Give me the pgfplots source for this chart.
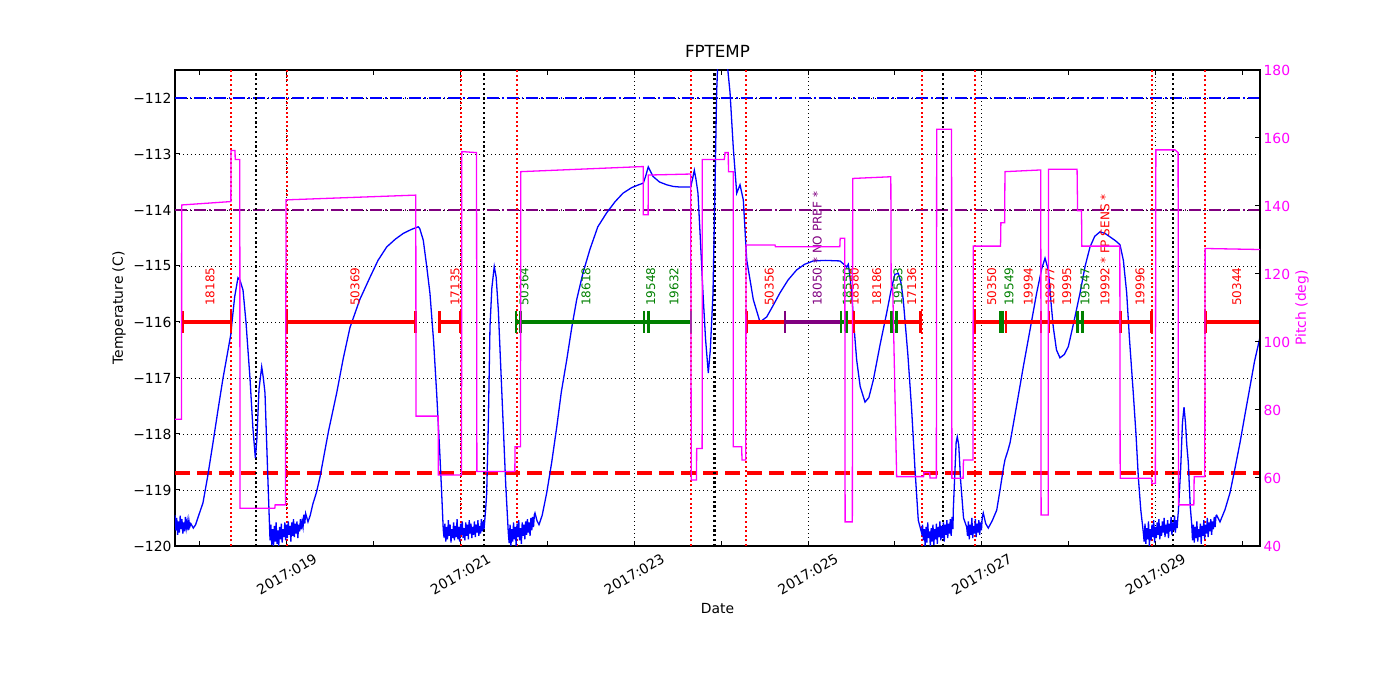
\documentclass[border=0pt]{standalone}
\usepackage{pgfplots}
\pgfplotsset{compat=1.18}
\usepackage{fontspec}
\setmainfont{DejaVu Sans}
\definecolor{mgreen}{RGB}{0,128,0}
\definecolor{mpurple}{RGB}{128,0,128}
\definecolor{mmag}{RGB}{255,0,255}
\definecolor{mred}{RGB}{255,0,0}
\definecolor{mblue}{RGB}{0,0,255}
\newcommand{\tickfont}{\fontsize{13.9}{16}\selectfont}
\begin{document}
\begin{tikzpicture}[
  lab/.style={rotate=90, anchor=west, inner sep=0pt, font=\fontsize{12}{14}\selectfont},
  seg/.style={line width=3.3pt, mark=|, mark size=11pt, mark options={solid, line width=2.8pt}},
  evr/.style={mred, line width=1.8pt, dash pattern=on 2pt off 2.6pt},
  evk/.style={black, line width=2.2pt, dash pattern=on 2.2pt off 2.6pt},
]
\path[use as bounding box] (-175pt,-154pt) rectangle (1225pt,546pt);
\begin{axis}[
  at={(0pt,0pt)}, anchor=south west,
  scale only axis, width=1085pt, height=476pt,
  xmin=17.713, xmax=30.203, ymin=-120, ymax=-111.5,
  xtick={19,21,23,25,27,29},
  xticklabels={2017:019,2017:021,2017:023,2017:025,2017:027,2017:029},
  minor xtick={18,20,22,24,26,28,30},
  ytick={-120,-119,-118,-117,-116,-115,-114,-113,-112},
  yticklabels={−120,−119,−118,−117,−116,−115,−114,−113,−112},
  xtick pos=both, ytick pos=left,
  tick align=inside,
  major tick length=5pt, minor tick length=5pt,
  tick style={black, line width=1pt},
  axis line style={line width=1.5pt},
  grid=major,
  major grid style={black, line width=0.7pt, dash pattern=on 1pt off 3pt},
  tick label style={font=\tickfont},
  xticklabel style={yshift=-28pt, rotate=30, anchor=center},
  title={FPTEMP},
  title style={at={(axis description cs:0.5,1.0273)}, anchor=center, font=\fontsize{16.7}{19}\selectfont},
  xlabel={Date},
  xlabel style={at={(axis description cs:0.5,-0.1324)}, anchor=center, font=\tickfont},
  ylabel={Temperature (C)},
  ylabel style={at={(axis description cs:-0.0516,0.5)}, anchor=center, font=\tickfont},
]
% reference horizontal lines
\addplot[mblue, line width=1.4pt, dash pattern=on 12pt off 3pt on 1.5pt off 3pt] coordinates {(17.713,-112) (30.203,-112)};
\addplot[mpurple, line width=1.4pt, dash pattern=on 12pt off 3pt on 1.5pt off 3pt] coordinates {(17.713,-114) (30.203,-114)};
\addplot[mred, line width=3.5pt, dash pattern=on 15pt off 7pt] coordinates {(17.713,-118.7) (30.203,-118.7)};
% event lines
\addplot[evr] coordinates {(18.358,-120) (18.358,-111.5)};
\addplot[evr] coordinates {(18.999,-120) (18.999,-111.5)};
\addplot[evr] coordinates {(21.009,-120) (21.009,-111.5)};
\addplot[evr] coordinates {(21.646,-120) (21.646,-111.5)};
\addplot[evr] coordinates {(23.656,-120) (23.656,-111.5)};
\addplot[evr] coordinates {(24.286,-120) (24.286,-111.5)};
\addplot[evr] coordinates {(26.309,-120) (26.309,-111.5)};
\addplot[evr] coordinates {(26.922,-120) (26.922,-111.5)};
\addplot[evr] coordinates {(28.956,-120) (28.956,-111.5)};
\addplot[evr] coordinates {(29.570,-120) (29.570,-111.5)};
\addplot[evk] coordinates {(18.642,-120) (18.642,-111.5)};
\addplot[evk] coordinates {(21.273,-120) (21.273,-111.5)};
\addplot[evk] coordinates {(23.924,-120) (23.924,-111.5)};
\addplot[evk] coordinates {(26.557,-120) (26.557,-111.5)};
\addplot[evk] coordinates {(29.205,-120) (29.205,-111.5)};
% temperature
\addplot[mblue, line width=1.3pt] coordinates {
(17.713,-119.45) (17.723,-119.72) (17.733,-119.50) (17.743,-119.80) (17.753,-119.56) (17.763,-119.76) (17.773,-119.46) (17.783,-119.70) (17.793,-119.52) (17.803,-119.78) (17.813,-119.58) (17.823,-119.74) (17.833,-119.48) (17.843,-119.68) (17.853,-119.56) (17.863,-119.72) (17.873,-119.54) (17.883,-119.66) (17.895,-119.60) (17.924,-119.68) (17.95,-119.62) (17.98,-119.48) (18.035,-119.23) (18.09,-118.75) (18.15,-118.16) (18.21,-117.55) (18.266,-117.0) (18.31,-116.62) (18.358,-116.2) (18.366,-116.05) (18.40,-115.55) (18.438,-115.21) (18.46,-115.25) (18.496,-115.43) (18.53,-116.0) (18.576,-117.0) (18.61,-117.9) (18.638,-118.43) (18.655,-118.1) (18.68,-117.2) (18.711,-116.8) (18.73,-117.0) (18.749,-117.27) (18.78,-118.7) (18.807,-119.9)
(18.817,-119.62) (18.827,-119.98) (18.837,-119.70) (18.847,-120.0) (18.857,-119.64) (18.867,-119.92) (18.877,-119.58) (18.887,-119.96) (18.897,-119.72) (18.907,-120.0) (18.917,-119.66) (18.927,-119.88) (18.937,-119.60) (18.947,-119.94) (18.957,-119.70) (18.967,-119.84) (18.977,-119.58) (18.987,-119.90) (18.997,-119.62) (19.007,-119.86) (19.017,-119.56) (19.027,-119.80) (19.037,-119.64) (19.047,-119.92) (19.057,-119.58) (19.067,-119.82) (19.077,-119.52) (19.087,-119.84) (19.097,-119.60) (19.107,-119.78) (19.117,-119.56) (19.127,-119.86) (19.137,-119.62) (19.147,-119.74) (19.157,-119.52) (19.167,-119.70) (19.177,-119.56) (19.187,-119.66) (19.197,-119.44) (19.207,-119.60) (19.217,-119.42)
(19.244,-119.57) (19.27,-119.45) (19.30,-119.25) (19.34,-119.05) (19.382,-118.77) (19.48,-117.95) (19.574,-117.27) (19.65,-116.65) (19.727,-116.1) (19.84,-115.6) (19.958,-115.2) (20.05,-114.9) (20.15,-114.66) (20.25,-114.52) (20.339,-114.42) (20.43,-114.35) (20.513,-114.30) (20.53,-114.33) (20.571,-114.54) (20.61,-115.0) (20.648,-115.49) (20.69,-116.35) (20.725,-117.27) (20.76,-118.3) (20.783,-119.06) (20.801,-119.71)
(20.81,-119.85) (20.82,-119.60) (20.83,-119.92) (20.84,-119.66) (20.85,-119.88) (20.86,-119.54) (20.87,-119.82) (20.88,-119.62) (20.89,-119.94) (20.90,-119.70) (20.91,-119.86) (20.92,-119.58) (20.93,-119.90) (20.94,-119.64) (20.95,-119.84) (20.96,-119.52) (20.97,-119.88) (20.98,-119.66) (20.99,-119.92) (21.00,-119.60) (21.01,-119.80) (21.02,-119.56) (21.03,-119.86) (21.04,-119.68) (21.05,-119.90) (21.06,-119.58) (21.07,-119.82) (21.08,-119.62) (21.09,-119.88) (21.10,-119.54) (21.11,-119.78) (21.12,-119.60) (21.13,-119.86) (21.14,-119.66) (21.15,-119.80) (21.16,-119.56) (21.17,-119.84) (21.18,-119.62) (21.19,-119.76) (21.20,-119.54) (21.21,-119.82) (21.22,-119.64) (21.23,-119.78) (21.24,-119.52) (21.25,-119.74) (21.26,-119.56) (21.27,-119.70) (21.28,-119.52)
(21.291,-119.3) (21.301,-119.06) (21.32,-117.8) (21.339,-116.08) (21.36,-115.4) (21.388,-115.01) (21.41,-115.2) (21.435,-115.79) (21.46,-116.7) (21.492,-117.87) (21.52,-118.9) (21.55,-119.77)
(21.56,-119.95) (21.57,-119.62) (21.58,-120.0) (21.59,-119.70) (21.60,-119.92) (21.61,-119.58) (21.62,-119.88) (21.63,-119.66) (21.64,-120.0) (21.65,-119.60) (21.66,-119.84) (21.67,-119.54) (21.68,-119.90) (21.69,-119.68) (21.70,-119.96) (21.71,-119.58) (21.72,-119.82) (21.73,-119.62) (21.74,-119.88) (21.75,-119.56) (21.76,-119.80) (21.77,-119.52) (21.78,-119.76) (21.79,-119.58) (21.80,-119.82) (21.81,-119.50) (21.82,-119.72) (21.83,-119.48) (21.84,-119.66) (21.85,-119.44)
(21.857,-119.41) (21.88,-119.55) (21.903,-119.62) (21.94,-119.45) (21.992,-119.05) (22.05,-118.5) (22.107,-117.88) (22.16,-117.25) (22.222,-116.68) (22.28,-116.1) (22.337,-115.6) (22.41,-115.12) (22.49,-114.7) (22.58,-114.3) (22.682,-114.05) (22.78,-113.85) (22.87,-113.7) (22.97,-113.6) (23.05,-113.55) (23.104,-113.52) (23.13,-113.4) (23.161,-113.23) (23.19,-113.32) (23.215,-113.4) (23.29,-113.5) (23.373,-113.55) (23.45,-113.58) (23.526,-113.59) (23.60,-113.59) (23.649,-113.59) (23.67,-113.45) (23.691,-113.29) (23.71,-113.45) (23.733,-113.7) (23.76,-114.5) (23.791,-115.49) (23.82,-116.3) (23.852,-116.91) (23.875,-116.5) (23.906,-115.49) (23.93,-113.5) (23.948,-111.9) (23.963,-111.3) (24.064,-111.3) (24.102,-111.9) (24.14,-112.9) (24.179,-113.7) (24.217,-113.55) (24.255,-113.82) (24.294,-114.89) (24.37,-115.6) (24.447,-116.0) (24.524,-115.91) (24.60,-115.7) (24.677,-115.48) (24.77,-115.25) (24.869,-115.07) (24.96,-114.97) (25.06,-114.91) (25.2,-114.9) (25.368,-114.91) (25.42,-114.98) (25.445,-115.02) (25.463,-114.97) (25.48,-115.15) (25.502,-115.48) (25.53,-116.1) (25.56,-116.68) (25.60,-117.15) (25.656,-117.43) (25.70,-117.35) (25.751,-117.04) (25.83,-116.4) (25.905,-115.84) (25.96,-115.4) (26.0,-115.15) (26.039,-115.13) (26.07,-115.3) (26.096,-115.6) (26.15,-116.6) (26.193,-117.57) (26.23,-118.6) (26.269,-119.54) (26.308,-119.77)
(26.318,-119.62) (26.328,-119.90) (26.338,-119.70) (26.348,-120.0) (26.358,-119.66) (26.368,-119.94) (26.378,-119.58) (26.388,-119.86) (26.398,-119.74) (26.408,-120.0) (26.418,-119.68) (26.428,-119.92) (26.438,-119.62) (26.448,-119.98) (26.458,-119.70) (26.468,-119.88) (26.478,-119.60) (26.488,-119.96) (26.498,-119.66) (26.508,-119.84) (26.518,-119.56) (26.528,-119.90) (26.538,-119.64) (26.548,-119.86) (26.558,-119.58) (26.568,-119.92) (26.578,-119.62) (26.588,-119.80) (26.598,-119.54) (26.608,-119.86) (26.618,-119.60) (26.628,-119.78) (26.638,-119.52) (26.648,-119.82) (26.658,-119.48) (26.668,-119.70)
(26.672,-119.36) (26.69,-118.7) (26.705,-118.15) (26.718,-118.05) (26.735,-118.2) (26.755,-118.8) (26.79,-119.5) (26.826,-119.66)
(26.836,-119.82) (26.846,-119.56) (26.856,-119.88) (26.866,-119.62) (26.876,-119.80) (26.886,-119.50) (26.896,-119.86) (26.906,-119.64) (26.916,-119.78) (26.926,-119.52) (26.936,-119.84) (26.946,-119.60) (26.956,-119.76) (26.966,-119.54) (26.976,-119.80) (26.986,-119.58) (26.996,-119.72) (27.006,-119.48)
(27.017,-119.41) (27.045,-119.6) (27.075,-119.68) (27.12,-119.55) (27.172,-119.36) (27.21,-119.0) (27.25,-118.6) (27.267,-118.46) (27.30,-118.3) (27.325,-118.16) (27.40,-117.5) (27.478,-116.8) (27.56,-116.1) (27.632,-115.48) (27.69,-115.05) (27.728,-114.86) (27.766,-115.07) (27.80,-115.7) (27.823,-116.09) (27.86,-116.5) (27.90,-116.64) (27.95,-116.58) (27.996,-116.44) (28.06,-116.0) (28.13,-115.49) (28.19,-115.0) (28.246,-114.66) (28.30,-114.47) (28.361,-114.39) (28.42,-114.42) (28.476,-114.48) (28.54,-114.55) (28.591,-114.62) (28.63,-114.9) (28.668,-115.48) (28.70,-116.3) (28.744,-117.27) (28.775,-118.0) (28.802,-118.77) (28.83,-119.35) (28.859,-119.75)
(28.869,-119.92) (28.879,-119.60) (28.889,-119.96) (28.899,-119.68) (28.909,-119.88) (28.919,-119.56) (28.929,-120.0) (28.939,-119.70) (28.949,-119.90) (28.959,-119.62) (28.969,-119.84) (28.979,-119.54) (28.989,-119.94) (28.999,-119.66) (29.009,-119.86) (29.019,-119.58) (29.029,-119.80) (29.039,-119.52) (29.049,-119.88) (29.059,-119.64) (29.069,-119.82) (29.079,-119.56) (29.089,-119.76) (29.099,-119.50) (29.109,-119.84) (29.119,-119.62) (29.129,-119.78) (29.139,-119.54) (29.149,-119.86) (29.159,-119.60) (29.169,-119.74) (29.179,-119.48) (29.189,-119.80) (29.199,-119.58) (29.209,-119.72) (29.219,-119.46) (29.229,-119.76) (29.239,-119.54) (29.249,-119.68) (29.259,-119.44)
(29.262,-119.41) (29.29,-118.6) (29.31,-117.8) (29.328,-117.52) (29.345,-117.8) (29.36,-118.2) (29.377,-118.5) (29.40,-119.3) (29.416,-119.6)
(29.426,-119.90) (29.436,-119.62) (29.446,-119.94) (29.456,-119.66) (29.466,-119.86) (29.476,-119.56) (29.486,-119.92) (29.496,-119.70) (29.506,-119.84) (29.516,-119.60) (29.526,-119.96) (29.536,-119.64) (29.546,-119.82) (29.556,-119.54) (29.566,-119.88) (29.576,-119.62) (29.586,-119.78) (29.596,-119.50) (29.606,-119.84) (29.616,-119.58) (29.626,-119.74) (29.636,-119.52) (29.646,-119.80) (29.656,-119.56) (29.666,-119.70) (29.676,-119.48) (29.686,-119.66) (29.696,-119.46)
(29.704,-119.45) (29.742,-119.57) (29.80,-119.35) (29.857,-119.05) (29.91,-118.65) (29.972,-118.16) (30.03,-117.65) (30.087,-117.16) (30.14,-116.7) (30.203,-116.27)
};
% observation segments
\addplot[seg, mred] coordinates {(17.797,-116) (18.358,-116)};
\addplot[seg, mred] coordinates {(18.999,-116) (20.484,-116)};
\addplot[seg, mred] coordinates {(20.762,-116) (21.004,-116)};
\addplot[seg, mgreen] coordinates {(21.638,-116) (21.692,-116)};
\addplot[seg, mgreen] coordinates {(21.692,-116) (23.111,-116)};
\addplot[seg, mgreen] coordinates {(23.111,-116) (23.166,-116)};
\addplot[seg, mgreen] coordinates {(23.166,-116) (23.653,-116)};
\addplot[seg, mred] coordinates {(24.294,-116) (24.735,-116)};
\addplot[seg, mpurple] coordinates {(24.735,-116) (25.379,-116)};
\addplot[seg, mred] coordinates {(25.445,-116) (25.529,-116)};
\addplot[seg, mred] coordinates {(25.529,-116) (25.963,-116)};
\addplot[seg, mred] coordinates {(26.020,-116) (26.297,-116)};
\addplot[seg, mgreen] coordinates {(25.379,-116) (25.445,-116)};
\addplot[seg, mgreen] coordinates {(25.963,-116) (26.020,-116)};
\addplot[seg, mred] coordinates {(26.922,-116) (27.218,-116)};
\addplot[mred, line width=3.3pt] coordinates {(27.241,-116) (27.279,-116)};
\addplot[seg, mred] coordinates {(27.279,-116) (27.681,-116)};
\addplot[seg, mred] coordinates {(27.681,-116) (27.774,-116)};
\addplot[seg, mred] coordinates {(27.774,-116) (28.104,-116)};
\addplot[seg, mred] coordinates {(28.157,-116) (28.599,-116)};
\addplot[seg, mred] coordinates {(28.599,-116) (28.956,-116)};
\addplot[seg, mred] coordinates {(29.577,-116) (30.203,-116)};
\addplot[seg, mgreen] coordinates {(27.218,-116) (27.241,-116)};
\addplot[seg, mgreen] coordinates {(28.104,-116) (28.157,-116)};
% labels
\node[lab, text=mred] at (axis cs:18.116,-115.714) {18185};
\node[lab, text=mred] at (axis cs:19.785,-115.714) {50369};
\node[lab, text=mred] at (axis cs:20.936,-115.714) {17135};
\node[lab, text=mgreen] at (axis cs:21.730,-115.714) {50364};
\node[lab, text=mgreen] at (axis cs:22.444,-115.714) {18618};
\node[lab, text=mgreen] at (axis cs:23.189,-115.714) {19548};
\node[lab, text=mgreen] at (axis cs:23.457,-115.714) {19632};
\node[lab, text=mred] at (axis cs:24.554,-115.714) {50356};
\node[lab, text=mpurple] at (axis cs:25.106,-115.714) {18050 * NO PREF *};
\node[lab, text=mgreen] at (axis cs:25.452,-115.714) {18550};
\node[lab, text=mred] at (axis cs:25.532,-115.714) {18580};
\node[lab, text=mred] at (axis cs:25.790,-115.714) {18186};
\node[lab, text=mgreen] at (axis cs:26.035,-115.714) {19553};
\node[lab, text=mred] at (axis cs:26.193,-115.714) {17136};
\node[lab, text=mred] at (axis cs:27.114,-115.714) {50350};
\node[lab, text=mgreen] at (axis cs:27.313,-115.714) {19549};
\node[lab, text=mred] at (axis cs:27.535,-115.714) {19994};
\node[lab, text=mred] at (axis cs:27.785,-115.714) {18977};
\node[lab, text=mred] at (axis cs:27.977,-115.714) {19995};
\node[lab, text=mgreen] at (axis cs:28.188,-115.714) {19547};
\node[lab, text=mred] at (axis cs:28.418,-115.714) {19992 * FP SENS *};
\node[lab, text=mred] at (axis cs:28.821,-115.714) {19996};
\node[lab, text=mred] at (axis cs:29.934,-115.714) {50344};
\end{axis}
\begin{axis}[
  at={(0pt,0pt)}, anchor=south west,
  scale only axis, width=1085pt, height=476pt,
  xmin=17.713, xmax=30.203, ymin=40, ymax=180,
  axis x line=none, axis y line*=right,
  ytick={40,60,80,100,120,140,160,180},
  yticklabels={40,60,80,100,120,140,160,180},
  tick align=inside,
  major tick length=5pt,
  tick style={black, line width=1pt},
  axis line style={line width=1.5pt},
  yticklabel style={font=\tickfont, text=mmag},
  ylabel={Pitch (deg)},
  ylabel style={at={(axis description cs:1.0387,0.5)}, anchor=center, font=\tickfont, text=mmag},
]
\addplot[mmag, line width=1.3pt] coordinates {
(17.713,77.3) (17.788,77.3) (17.790,140.3) (18.356,141.3) (18.358,156.3) (18.404,156.3) (18.406,153.7) (18.459,153.7) (18.461,51.1) (18.862,51.1) (18.866,52.1) (18.985,52.1) (18.991,141.8) (20.485,143.2) (20.487,78.2) (20.742,78.2) (20.744,60.9) (21.011,60.9) (21.015,156.0) (21.184,155.7) (21.188,61.9) (21.625,61.9) (21.627,69.2) (21.690,69.2) (21.694,150.1) (23.102,151.6) (23.104,137.4) (23.159,137.4) (23.161,149.1) (23.649,149.4) (23.656,59.4) (23.716,59.4) (23.718,68.7) (23.781,68.7) (23.783,153.7) (24.036,153.7) (24.045,155.7) (24.082,155.7) (24.084,150.1) (24.138,150.1) (24.140,69.2) (24.236,69.2) (24.240,65.3) (24.282,65.3) (24.286,128.5) (24.620,128.5) (24.625,128.0) (25.366,128.0) (25.370,130.5) (25.423,130.5) (25.427,47.1) (25.510,47.1) (25.514,148.1) (25.953,148.6) (25.957,116.0) (25.975,116.0) (26.020,60.4) (26.330,60.4) (26.334,61.6) (26.400,61.6) (26.404,60.0) (26.477,60.0) (26.481,162.6) (26.652,162.6) (26.656,59.9) (26.785,59.9) (26.789,65.3) (26.898,65.3) (26.902,128.2) (27.216,128.2) (27.220,135.1) (27.263,135.1) (27.267,150.1) (27.679,150.6) (27.683,49.1) (27.764,49.1) (27.768,150.8) (28.097,150.8) (28.103,138.6) (28.148,138.6) (28.152,128.2) (28.589,128.2) (28.593,59.9) (28.954,59.9) (28.958,58.4) (28.998,58.4) (29.004,156.5) (29.224,156.5) (29.260,155.7) (29.264,52.1) (29.441,52.1) (29.445,60.4) (29.567,60.4) (29.571,127.5) (30.203,127.2)
};
\end{axis}
\end{tikzpicture}
\end{document}
